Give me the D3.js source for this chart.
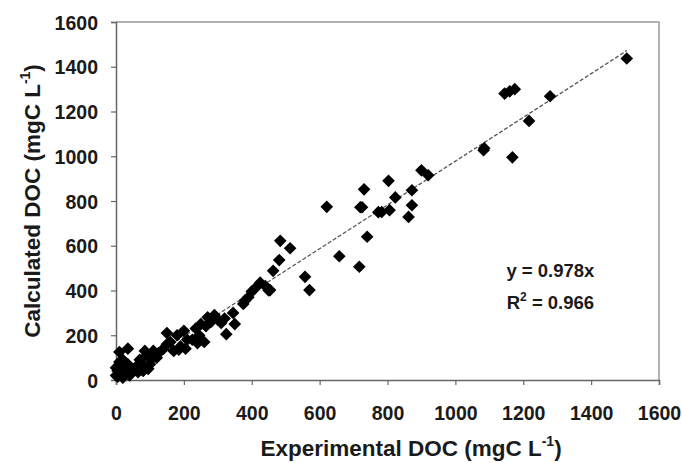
<!DOCTYPE html>
<html>
<head>
<meta charset="utf-8">
<script src="https://cdn.jsdelivr.net/npm/d3@7"></script>
<style>
  body { margin: 0; background: #fff; }
  text { font-family: "Liberation Sans", Arial, sans-serif; font-weight: bold; fill: #1a1a1a; }
</style>
</head>
<body>
<script>
// Experimental vs calculated DOC (mgC L-1)
const experimental = [
  0, 5, 10, 15, 20, 25, 30, 35, 40, 10, 0, 20, 10, 35, 5, 45,
  60, 70, 80, 90, 100, 110, 120, 85, 95, 75, 105, 125, 65,
  140, 150, 160, 170, 180, 190, 200, 210, 150, 185, 205,
  225, 235, 245, 250, 260, 240, 265,
  270, 280, 290, 300, 310, 320, 325, 350, 345,
  375, 380, 390, 400, 410, 425, 440, 450, 454, 463, 481, 484, 513,
  557, 570, 621, 658, 717, 720, 725, 731, 740, 773, 783, 803, 806,
  823, 862, 872, 872, 900, 920, 1083, 1085, 1145, 1160, 1175, 1168,
  1217, 1279, 1505
];
const calculated = [
  20, 40, 30, 60, 10, 50, 30, 70, 20, 80, 55, 90, 125, 140, 15, 45,
  60, 90, 40, 110, 70, 130, 100, 130, 50, 75, 95, 120, 35,
  140, 210, 170, 130, 200, 150, 220, 180, 160, 135, 140,
  180, 230, 200, 250, 170, 165, 240,
  280, 260, 290, 270, 255, 275, 205, 250, 300,
  340, 355, 370, 395, 410, 435, 420, 400, 402, 488, 536, 622, 589,
  461, 402, 774, 553, 506, 772, 772, 852, 640, 750, 751, 890, 759,
  816, 729, 848, 781, 937, 915, 1027, 1036, 1280, 1290, 1300, 995,
  1158, 1268, 1437
];
const xTicks = [0, 200, 400, 600, 800, 1000, 1200, 1400, 1600];
const yTicks = [0, 200, 400, 600, 800, 1000, 1200, 1400, 1600];
const slope = 0.978;
const r2 = '0.966';

const width = 682, height = 463;
const margin = { top: 22, right: 23, bottom: 83, left: 116 };
const innerW = width - margin.left - margin.right;
const innerH = height - margin.top - margin.bottom;

const svg = d3.select('body')
  .append('svg')
  .attr('width', width)
  .attr('height', height);

const g = svg.append('g')
  .attr('transform', `translate(${margin.left}, ${margin.top})`);

const x = d3.scaleLinear().domain([0, 1600]).range([0, innerW]);
const y = d3.scaleLinear().domain([0, 1600]).range([innerH, 0]);

// plot frame (top and right)
g.append('path')
  .attr('d', `M0,0H${innerW}V${innerH}`)
  .attr('fill', 'none')
  .attr('stroke', '#9a9a9a')
  .attr('stroke-width', 1.5);

// axes
const xAxis = g.append('g')
  .attr('transform', `translate(0, ${innerH})`)
  .call(d3.axisBottom(x).tickValues(xTicks).tickSize(5).tickPadding(21).tickFormat(d3.format('d')));

const yAxis = g.append('g')
  .call(d3.axisLeft(y).tickValues(yTicks).tickSize(5).tickPadding(13).tickFormat(d3.format('d')));

[xAxis, yAxis].forEach((a) => {
  a.select('.domain').attr('stroke', '#666').attr('stroke-width', 1.5);
  a.selectAll('.tick line').attr('stroke', '#666').attr('stroke-width', 1.2);
  a.selectAll('.tick text')
    .style('font-size', '19.5px')
    .style('font-family', '"Liberation Sans", Arial, sans-serif')
    .style('font-weight', 'bold')
    .attr('fill', '#1a1a1a');
});
yAxis.selectAll('.tick text').attr('dy', '0.36em');

// trend line y = 0.978x
g.append('line')
  .attr('x1', x(0))
  .attr('y1', y(0))
  .attr('x2', x(1505))
  .attr('y2', y(1505 * slope))
  .attr('stroke', '#555')
  .attr('stroke-width', 1.3)
  .attr('stroke-dasharray', '4,2');

// data points (diamonds)
const pts = experimental.map((d, i) => ({ x: d, y: calculated[i] }));
g.selectAll('.pt')
  .data(pts)
  .enter()
  .append('path')
  .attr('class', 'pt')
  .attr('d', d3.symbol().type(d3.symbolSquare).size(80))
  .attr('transform', (d) => `translate(${x(d.x)}, ${y(d.y)}) rotate(45)`)
  .attr('fill', '#000');

// equation
const eq = g.append('g').attr('transform', `translate(${x(1280)}, ${y(460)})`);
eq.append('text')
  .attr('x', 0)
  .attr('y', 0)
  .attr('text-anchor', 'middle')
  .style('font-size', '18.5px')
  .text(`y = ${slope}x`);
const r = eq.append('text')
  .attr('x', 0)
  .attr('y', 32)
  .attr('text-anchor', 'middle')
  .style('font-size', '18.5px');
r.append('tspan').text('R');
r.append('tspan').attr('dy', -8).style('font-size', '12px').text('2');
r.append('tspan').attr('dy', 8).text(` = ${r2}`);

// axis titles
const xt = svg.append('text')
  .attr('x', 411)
  .attr('y', 456)
  .attr('text-anchor', 'middle')
  .style('font-size', '22.5px');
xt.append('tspan').text('Experimental DOC (mgC L');
xt.append('tspan').attr('dy', -10).style('font-size', '14px').text('-1');
xt.append('tspan').attr('dy', 10).text(')');

const yt = svg.append('text')
  .attr('transform', `translate(40, ${margin.top + innerH / 2}) rotate(-90)`)
  .attr('text-anchor', 'middle')
  .style('font-size', '22.5px');
yt.append('tspan').text('Calculated DOC (mgC L');
yt.append('tspan').attr('dy', -10).style('font-size', '14px').text('-1');
yt.append('tspan').attr('dy', 10).text(')');
</script>
</body>
</html>
